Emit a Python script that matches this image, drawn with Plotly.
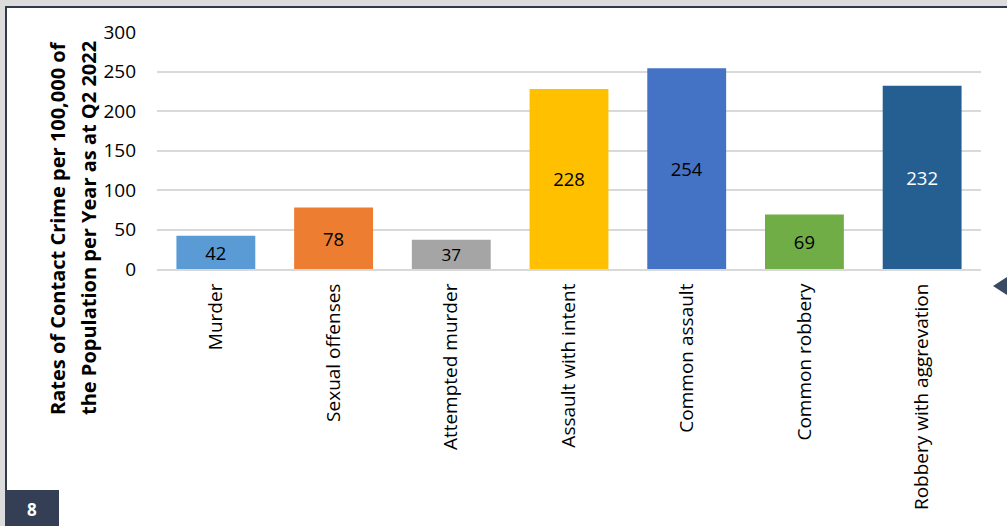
import plotly.graph_objects as go

# Contact crime rates per 100,000 population (Q2 2022)
categories = [
    "Murder",
    "Sexual offenses",
    "Attempted murder",
    "Assault with intent",
    "Common assault",
    "Common robbery",
    "Robbery with aggrevation",
]
rates = [42, 78, 37, 228, 254, 69, 232]
bar_colors = ["#5B9BD5", "#ED7D31", "#A5A5A5", "#FFC000", "#4472C4", "#70AD47", "#255E91"]
label_colors = ["#000000", "#000000", "#000000", "#000000", "#000000", "#000000", "#FFFFFF"]
y_ticks = [0, 50, 100, 150, 200, 250, 300]
title_lines = [
    "Rates of Contact Crime per 100,000 of",
    "the Population per Year as at Q2 2022",
]
slide_number = "8"

FONT = "Open Sans"
SLATE = "#343F55"

fig = go.Figure(
    go.Bar(
        x=categories,
        y=rates,
        marker=dict(color=bar_colors, line=dict(width=0)),
        text=[str(v) for v in rates],
        textposition="inside",
        insidetextanchor="middle",
        textangle=0,
        textfont=dict(family=FONT, size=18.5, color=label_colors),
        width=0.67,
        hoverinfo="skip",
    )
)

fig.update_layout(
    width=1007,
    height=526,
    margin=dict(l=157, r=26, t=32, b=257),
    paper_bgcolor="white",
    plot_bgcolor="white",
    showlegend=False,
    font=dict(family=FONT, color="#000000"),
    xaxis=dict(
        range=[-0.5, 6.5],
        tickangle=-90,
        tickfont=dict(family=FONT, size=19, color="#000000"),
        showgrid=False,
        showline=True,
        linecolor="#D9D9D9",
        linewidth=2,
        ticks="",
        ticklabelstandoff=5,
    ),
    yaxis=dict(
        range=[0, 300],
        tickvals=y_ticks,
        tickfont=dict(family=FONT, size=19, color="#000000"),
        showgrid=True,
        gridcolor="#D9D9D9",
        gridwidth=2,
        zeroline=False,
        showline=False,
        ticks="",
        ticklabelstandoff=20,
    ),
)


def px_x(v):
    return (v - 157) / (1007 - 157 - 26)


def px_y(v):
    return (526 - 257 - v) / (526 - 257 - 32)


# Rotated two-line axis title
for line, xpos in zip(title_lines, [57, 88]):
    fig.add_annotation(
        text=f"<b>{line}</b>",
        xref="paper", yref="paper",
        x=px_x(xpos), y=px_y(228),
        xanchor="center", yanchor="middle",
        textangle=-90,
        showarrow=False,
        font=dict(family=FONT, size=20, color="#000000"),
    )

# Slide frame: grey surround, dark border lines, page-number tab, nav arrow
shapes = [
    dict(type="rect", xref="paper", yref="paper", x0=px_x(0), x1=px_x(1007), y0=px_y(0), y1=px_y(6),
         fillcolor="#DCDCDC", line=dict(width=0), layer="above"),
    dict(type="rect", xref="paper", yref="paper", x0=px_x(0), x1=px_x(5), y0=px_y(0), y1=px_y(526),
         fillcolor="#DCDCDC", line=dict(width=0), layer="above"),
    dict(type="rect", xref="paper", yref="paper", x0=px_x(5), x1=px_x(1007), y0=px_y(6), y1=px_y(8),
         fillcolor="#2E3A4C", line=dict(width=0), layer="above"),
    dict(type="rect", xref="paper", yref="paper", x0=px_x(5), x1=px_x(7), y0=px_y(6), y1=px_y(526),
         fillcolor="#2E3A4C", line=dict(width=0), layer="above"),
    dict(type="rect", xref="paper", yref="paper", x0=px_x(5), x1=px_x(59), y0=px_y(490), y1=px_y(526),
         fillcolor=SLATE, line=dict(width=0), layer="above"),
    dict(type="path", xref="paper", yref="paper",
         path=f"M {px_x(993)} {px_y(286)} L {px_x(1010)} {px_y(275)} L {px_x(1010)} {px_y(297)} Z",
         fillcolor="#3B4A63", line=dict(width=0), layer="above"),
]
fig.update_layout(shapes=shapes)

fig.add_annotation(
    text=f"<b>{slide_number}</b>",
    xref="paper", yref="paper",
    x=px_x(32), y=px_y(509),
    xanchor="center", yanchor="middle",
    showarrow=False,
    font=dict(family=FONT, size=17, color="white"),
)

fig.write_html("out.html")
